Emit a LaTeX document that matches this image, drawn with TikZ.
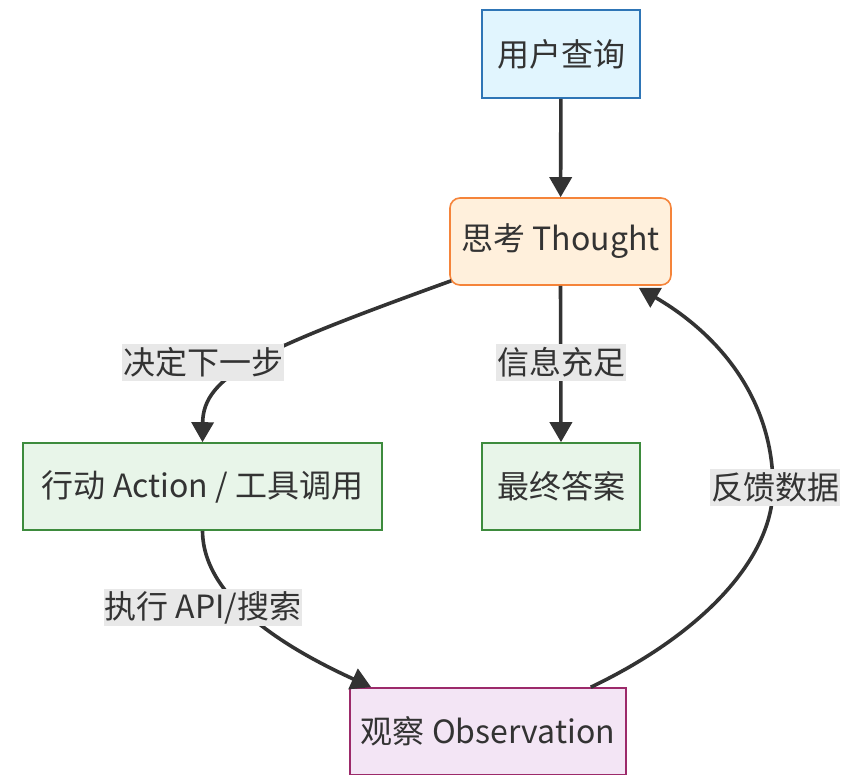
\documentclass[tikz,border=0pt]{standalone}
\usepackage{fontspec}
\setmainfont{Noto Sans CJK SC}
\usetikzlibrary{arrows.meta}
\definecolor{bluefill}{HTML}{E1F5FE}
\definecolor{bluedraw}{HTML}{2E75B6}
\definecolor{orfill}{HTML}{FFF0DC}
\definecolor{ordraw}{HTML}{F5843A}
\definecolor{grfill}{HTML}{E8F5E9}
\definecolor{grdraw}{HTML}{3D8B3D}
\definecolor{pufill}{HTML}{F3E5F5}
\definecolor{pudraw}{HTML}{9C2A6A}
\definecolor{txt}{HTML}{333333}
\definecolor{lblbg}{HTML}{E8E8E8}
\tikzset{
  box/.style={draw, line width=1.6pt, inner sep=0pt, text=txt,
    font=\fontsize{32}{38}\selectfont},
  lbl/.style={fill=lblbg, text=txt, inner sep=1pt, minimum height=37pt,
    font=\fontsize{32}{38}\selectfont},
  edge/.style={draw=txt, line width=3.6pt,
    -{Triangle[length=20pt,width=22pt]}},
}
\begin{document}
\begin{tikzpicture}[x=1pt,y=-1pt]
\useasboundingbox (0,0) rectangle (856,774);
\clip (0,0) rectangle (856,774);
\fill[white] (0,0) rectangle (856,774);

\node[box, fill=bluefill, draw=bluedraw, minimum width=158pt, minimum height=88pt] (user) at (561,54) {用户查询};
\node[box, fill=orfill, draw=ordraw, rounded corners=10pt, minimum width=221pt, minimum height=87pt] (thought) at (560.5,241.5) {思考 Thought};
\node[box, fill=grfill, draw=grdraw, minimum width=359pt, minimum height=87pt] (action) at (202.5,486.5) {行动 Action / 工具调用};
\node[box, fill=grfill, draw=grdraw, minimum width=158pt, minimum height=87pt] (final) at (561,486.5) {最终答案};
\node[box, fill=pufill, draw=pudraw, minimum width=276pt, minimum height=87pt] (obs) at (488,731.5) {观察 Observation};

\draw[edge] (user) -- (thought);
\draw[edge] ([xshift=2pt,yshift=5pt]thought.south west) .. controls (260,350) and (203,375) .. (action.north);
\draw[edge] (thought.south) -- (final.north);
\draw[edge] (action.south) .. controls (203,600) and (290,650) .. ([xshift=22pt]obs.north west);
\coordinate (fb) at (773,487);
\draw[edge] ([xshift=-36pt]obs.north east) .. controls (700,635) and (773,560) .. (fb)
   .. controls (773,400) and (720,335) .. ([xshift=-33pt,yshift=-2pt]thought.south east);

\node[lbl] (l1) at (203,362.5) {决定下一步};
\node[lbl] (l2) at (561,362.5) {信息充足};
\node[lbl] (l3) at (775,487) {反馈数据};
\node[lbl] (l4) at (203,607.5) {执行 API/搜索};
\end{tikzpicture}
\end{document}
